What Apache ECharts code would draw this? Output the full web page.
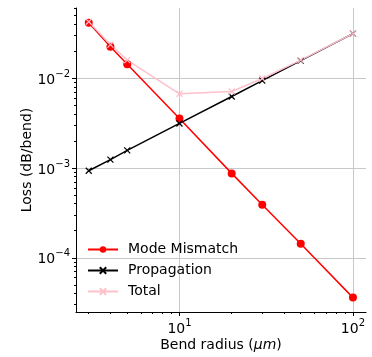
<!DOCTYPE html>
<html><head><meta charset="utf-8">
<script src="https://cdn.jsdelivr.net/npm/echarts@6/dist/echarts.min.js"></script>
<style>html,body{margin:0;padding:0;background:#fff}#c{width:372px;height:357px}</style>
</head><body><div id="c"></div>
<script>
var radius = [3, 4, 5, 10, 20, 30, 50, 100];
var modeMismatch = [0.0415, 0.0224, 0.0143, 0.00356, 0.00087, 0.00039, 0.000143, 0.000036];
var propagation = [0.00093, 0.00124, 0.00157, 0.00313, 0.00625, 0.0094, 0.0157, 0.0313];
var total = [0.0425, 0.0236, 0.0159, 0.0067, 0.0071, 0.0099, 0.0159, 0.0313];
var xMajor = [10, 100];
var xMinor = [3, 4, 5, 6, 7, 8, 9, 20, 30, 40, 50, 60, 70, 80, 90];
var yMajor = [1e-4, 1e-3, 1e-2];
var yMinor = [3e-5, 4e-5, 5e-5, 6e-5, 7e-5, 8e-5, 9e-5,
  2e-4, 3e-4, 4e-4, 5e-4, 6e-4, 7e-4, 8e-4, 9e-4,
  2e-3, 3e-3, 4e-3, 5e-3, 6e-3, 7e-3, 8e-3, 9e-3,
  2e-2, 3e-2, 4e-2, 5e-2, 6e-2];
var seriesNames = ['Mode Mismatch', 'Propagation', 'Total'];

var FONT = 'DejaVu Sans';
function pow10Label(v) {
  var e = Math.round(Math.log10(v));
  if (Math.abs(Math.log10(v) - e) > 1e-6) return '';
  return '{b|10}{s|' + String(e).replace('-', '\u2212') + '}';
}
var rich = {
  b: {fontFamily: FONT, fontSize: 14, color: '#000', padding: [4, 0, 0, 0]},
  s: {fontFamily: FONT, fontSize: 10, color: '#000', verticalAlign: 'top', padding: [0, 0, 6, 0]}
};
var crossPath = 'path://M0,0L10,10M10,0L0,10';
var pts = function (ys) { return radius.map(function (x, i) { return [x, ys[i]]; }); };

var xMin = 2.533, xMax = 118.9, yMin = 2.49e-5, yMax = 0.0604;
var chart = echarts.init(document.getElementById('c'), null, {renderer: 'canvas'});
chart.setOption({
  animation: false,
  grid: {left: 76, right: 6, top: 8, bottom: 44},
  legend: {
    orient: 'vertical', left: 87, top: 241, padding: 0, itemGap: 4, itemWidth: 30, itemHeight: 8,
    textStyle: {fontFamily: FONT, fontSize: 14, color: '#000', padding: [0, 0, 0, 5], lineHeight: 17},
    data: seriesNames
  },
  xAxis: [{
    type: 'log', logBase: 10, min: xMin, max: xMax, position: 'bottom',
    name: 'Bend radius ({i|\u03bcm})', nameLocation: 'middle', nameGap: 26, nameMoveOverlap: false,
    nameTextStyle: {fontFamily: FONT, fontSize: 14, color: '#000',
      rich: {i: {fontFamily: FONT, fontSize: 14, color: '#000', fontStyle: 'italic'}}},
    axisLine: {show: true, onZero: false, lineStyle: {color: '#000', width: 1}},
    axisTick: {show: true, inside: false, length: 4, customValues: xMajor, lineStyle: {color: '#000'}},
    axisLabel: {customValues: xMajor, formatter: pow10Label, rich: rich, margin: 6},
    splitLine: {show: true, lineStyle: {color: '#c8c8c8', width: 1}}
  }, {
    type: 'log', logBase: 10, min: xMin, max: xMax, position: 'bottom',
    axisLine: {show: false},
    axisTick: {show: true, inside: false, length: 2, customValues: xMinor, lineStyle: {color: '#000'}},
    axisLabel: {show: false}, splitLine: {show: false}
  }],
  yAxis: [{
    type: 'log', logBase: 10, min: yMin, max: yMax, position: 'left',
    name: 'Loss (dB/bend)', nameLocation: 'middle', nameGap: 42, nameMoveOverlap: false,
    nameTextStyle: {fontFamily: FONT, fontSize: 14, color: '#000'},
    axisLine: {show: true, onZero: false, lineStyle: {color: '#000', width: 1}},
    axisTick: {show: true, inside: false, length: 4, customValues: yMajor, lineStyle: {color: '#000'}},
    axisLabel: {customValues: yMajor, formatter: pow10Label, rich: rich, margin: 6},
    splitLine: {show: true, lineStyle: {color: '#c8c8c8', width: 1}}
  }, {
    type: 'log', logBase: 10, min: yMin, max: yMax, position: 'left',
    axisLine: {show: false},
    axisTick: {show: true, inside: false, length: 2, customValues: yMinor, lineStyle: {color: '#000'}},
    axisLabel: {show: false}, splitLine: {show: false}
  }],
  series: [{
    name: seriesNames[0], type: 'line', data: pts(modeMismatch),
    symbol: 'circle', symbolSize: 8,
    lineStyle: {color: '#ff0000', width: 1.5}, itemStyle: {color: '#ff0000'}
  }, {
    name: seriesNames[1], type: 'line', data: pts(propagation),
    symbol: crossPath, symbolSize: 6,
    lineStyle: {color: '#000', width: 1.5}, itemStyle: {color: 'none', borderColor: '#000', borderWidth: 1.2}
  }, {
    name: seriesNames[2], type: 'line', data: pts(total),
    symbol: crossPath, symbolSize: 6,
    lineStyle: {color: '#ffc0cb', width: 1.5}, itemStyle: {color: 'none', borderColor: '#ffc0cb', borderWidth: 1.2}
  }]
});
</script></body></html>
